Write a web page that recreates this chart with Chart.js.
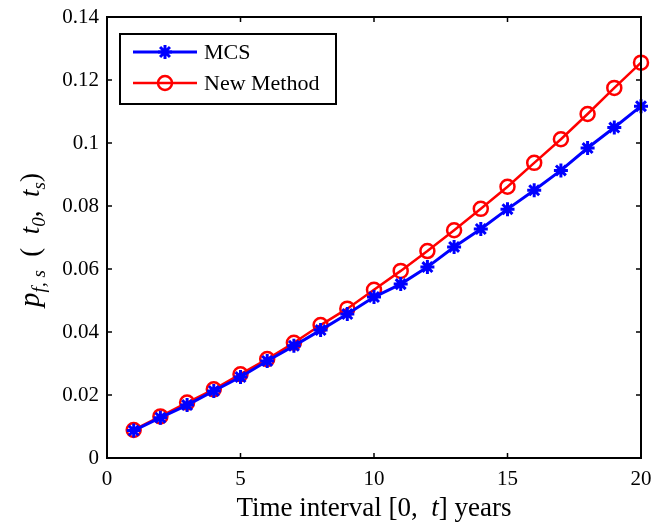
<!DOCTYPE html>
<html>
<head>
<meta charset="utf-8">
<script src="https://cdn.jsdelivr.net/npm/chart.js@4"></script>
<style>
  html, body { margin: 0; padding: 0; background: #fff; }
  canvas { display: block; }
</style>
</head>
<body>
<canvas id="myChart" width="654" height="525"></canvas>
<script>
// 時間区間 (years)
var years = [1, 2, 3, 4, 5, 6, 7, 8, 9, 10, 11, 12, 13, 14, 15, 16, 17, 18, 19, 20];

// MCS の結果
var mcsValues = [0.0087, 0.0128, 0.0168, 0.0213, 0.0257, 0.0308, 0.0356, 0.0406, 0.0457, 0.0511,
                 0.0552, 0.0606, 0.0670, 0.0727, 0.0790, 0.0850, 0.0913, 0.0984, 0.1049, 0.1117];

// New Method の結果
var newMethodValues = [0.0089, 0.0132, 0.0176, 0.0218, 0.0266, 0.0314, 0.0366, 0.0422, 0.0474, 0.0534,
                       0.0594, 0.0657, 0.0723, 0.0791, 0.0861, 0.0937, 0.1012, 0.1092, 0.1175, 0.1255];

var xTickLabels = ['0', '5', '10', '15', '20'];
var yTickLabels = ['0', '0.02', '0.04', '0.06', '0.08', '0.1', '0.12', '0.14'];

var serif = '"Liberation Serif", "Times New Roman", serif';

function toPoints(values) {
    return values.map(function(v, i) { return { x: years[i], y: v }; });
}

// 枠・目盛り・凡例・軸タイトルを描くプラグイン
var framePlugin = {
    id: 'frame',
    afterDraw: function(chart) {
        var ctx = chart.ctx;
        var a = chart.chartArea;
        var xs = chart.scales.x;
        var ys = chart.scales.y;
        ctx.save();

        // 外枠
        ctx.strokeStyle = '#000';
        ctx.lineWidth = 2;
        ctx.strokeRect(a.left, a.top, a.right - a.left, a.bottom - a.top);

        // 内向きの目盛り
        ctx.lineWidth = 1.5;
        var tl = 5;
        ctx.beginPath();
        xs.ticks.forEach(function(t) {
            var px = xs.getPixelForValue(t.value);
            ctx.moveTo(px, a.bottom); ctx.lineTo(px, a.bottom - tl);
            ctx.moveTo(px, a.top); ctx.lineTo(px, a.top + tl);
        });
        ys.ticks.forEach(function(t) {
            var py = ys.getPixelForValue(t.value);
            ctx.moveTo(a.left, py); ctx.lineTo(a.left + tl, py);
            ctx.moveTo(a.right, py); ctx.lineTo(a.right - tl, py);
        });
        ctx.stroke();

        // 凡例
        var lx = 120, ly = 34, lw = 216, lh = 70;
        ctx.fillStyle = '#fff';
        ctx.fillRect(lx, ly, lw, lh);
        ctx.lineWidth = 2;
        ctx.strokeStyle = '#000';
        ctx.strokeRect(lx, ly, lw, lh);

        var entries = chart.data.datasets;
        entries.forEach(function(ds, i) {
            var y = 52 + i * 31;
            ctx.strokeStyle = ds.borderColor;
            ctx.lineWidth = ds.borderWidth;
            ctx.beginPath();
            ctx.moveTo(133, y); ctx.lineTo(197, y);
            ctx.stroke();
            ctx.fillStyle = ds.pointBackgroundColor;
            ctx.strokeStyle = ds.pointBorderColor;
            ctx.lineWidth = ds.pointBorderWidth;
            Chart.helpers.drawPoint(ctx, {
                pointStyle: ds.pointStyle,
                radius: ds.pointRadius,
                borderWidth: ds.pointBorderWidth,
                rotation: 0
            }, 165, y);
            ctx.fillStyle = '#000';
            ctx.font = '22px ' + serif;
            ctx.textAlign = 'left';
            ctx.textBaseline = 'middle';
            ctx.fillText(ds.label, 204, y + 1);
        });

        // x 軸タイトル
        ctx.fillStyle = '#000';
        ctx.textBaseline = 'alphabetic';
        var parts = [
            { t: 'Time interval [0,  ', f: '27px ' + serif },
            { t: 't', f: 'italic 27px ' + serif },
            { t: '] years', f: '27px ' + serif }
        ];
        var total = 0;
        parts.forEach(function(p) { ctx.font = p.f; total += ctx.measureText(p.t).width; });
        var x0 = (a.left + a.right) / 2 - total / 2;
        parts.forEach(function(p) {
            ctx.font = p.f;
            ctx.textAlign = 'left';
            ctx.fillText(p.t, x0, 516);
            x0 += ctx.measureText(p.t).width;
        });

        // y 軸タイトル
        ctx.translate(39, 240);
        ctx.rotate(-Math.PI / 2);
        var yp = [
            { t: 'p', f: 'italic 29px ' + serif, d: 0 },
            { t: 'f, s', f: 'italic 19px ' + serif, d: 6 },
            { t: '  (  ', f: '27px ' + serif, d: 0 },
            { t: 't', f: 'italic 27px ' + serif, d: 0 },
            { t: '0', f: 'italic 19px ' + serif, d: 6 },
            { t: ',  ', f: '27px ' + serif, d: 0 },
            { t: 't', f: 'italic 27px ' + serif, d: 0 },
            { t: 's', f: 'italic 19px ' + serif, d: 6 },
            { t: ')', f: '27px ' + serif, d: 0 }
        ];
        var tw = 0;
        yp.forEach(function(p) { ctx.font = p.f; tw += ctx.measureText(p.t).width; });
        var cx = -tw / 2;
        yp.forEach(function(p) {
            ctx.font = p.f;
            ctx.fillText(p.t, cx, p.d);
            cx += ctx.measureText(p.t).width;
        });

        ctx.restore();
    }
};

var ctx = document.getElementById('myChart');

var myChart = new Chart(ctx, {
    type: 'line',
    data: {
        datasets: [{
            label: 'MCS',
            data: toPoints(mcsValues),
            borderColor: '#0000ff',
            backgroundColor: '#0000ff',
            borderWidth: 3,
            pointStyle: 'star',
            pointRadius: 7,
            pointBorderWidth: 3,
            pointBorderColor: '#0000ff',
            pointBackgroundColor: '#0000ff',
            tension: 0,
            clip: false
        }, {
            label: 'New Method',
            data: toPoints(newMethodValues),
            borderColor: '#ff0000',
            backgroundColor: 'rgba(0,0,0,0)',
            borderWidth: 2.5,
            pointStyle: 'circle',
            pointRadius: 7,
            pointBorderWidth: 2.5,
            pointBorderColor: '#ff0000',
            pointBackgroundColor: 'rgba(0,0,0,0)',
            tension: 0,
            clip: false
        }]
    },
    options: {
        responsive: false,
        animation: false,
        layout: {
            padding: { top: 17, right: 13, left: 0, bottom: 0 }
        },
        plugins: {
            legend: { display: false },
            tooltip: { enabled: false }
        },
        scales: {
            x: {
                type: 'linear',
                min: 0,
                max: 20,
                grid: { display: false, drawTicks: false },
                border: { display: false },
                ticks: {
                    stepSize: 5,
                    padding: 9,
                    color: '#000',
                    font: { family: serif, size: 21 },
                    callback: function(value, index) {
                        return xTickLabels[index];
                    }
                },
                afterFit: function(scale) {
                    scale.height = 67;
                    scale.paddingLeft = 0;
                    scale.paddingRight = 0;
                }
            },
            y: {
                min: 0,
                max: 0.14,
                grid: { display: false, drawTicks: false },
                border: { display: false },
                ticks: {
                    stepSize: 0.02,
                    padding: 8,
                    color: '#000',
                    font: { family: serif, size: 21 },
                    callback: function(value, index) {
                        return yTickLabels[index];
                    }
                },
                afterFit: function(scale) {
                    scale.width = 107;
                    scale.paddingTop = 0;
                    scale.paddingBottom = 0;
                }
            }
        }
    },
    plugins: [framePlugin]
});
</script>
</body>
</html>
